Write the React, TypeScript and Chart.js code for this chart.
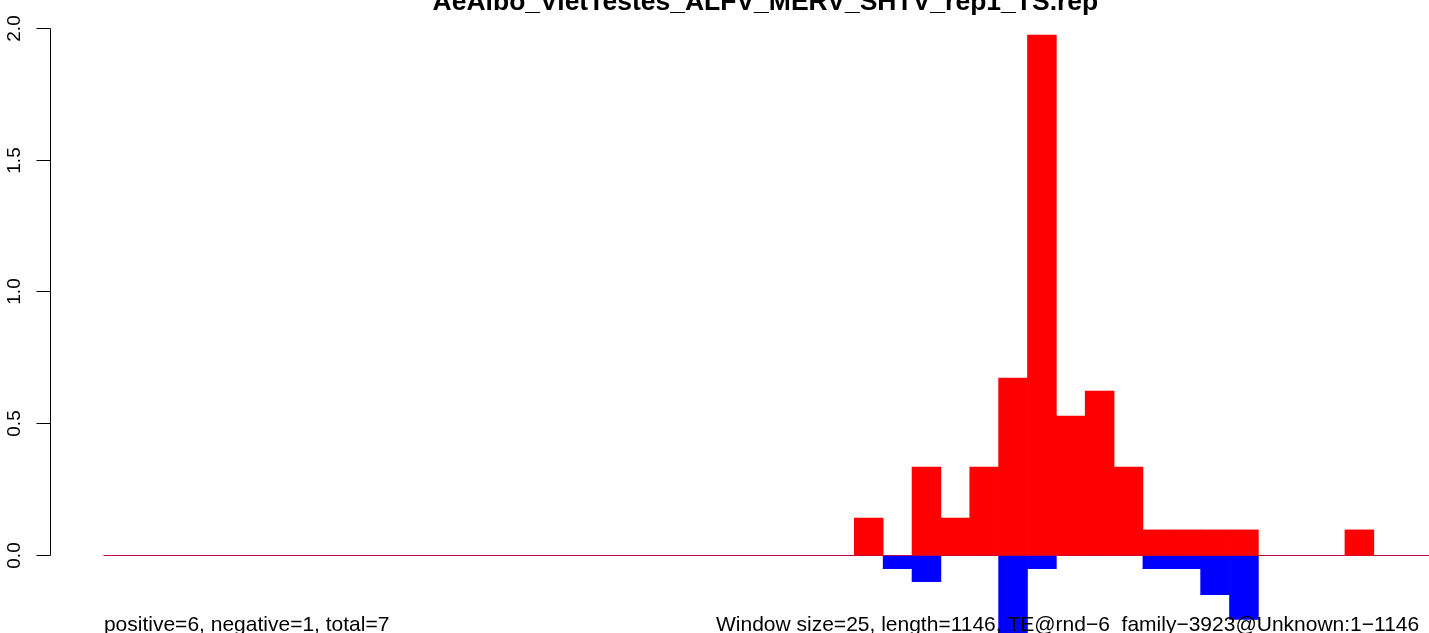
import React, { useEffect, useRef } from "react";
import { Chart, registerables } from "chart.js";

Chart.register(...registerables);

const TITLE = "AeAlbo_VietTestes_ALFV_MERV_SHTV_rep1_TS.rep";
const LEFT_NOTE = "positive=6, negative=1, total=7";
const RIGHT_NOTE = "Window size=25, length=1146, TE@rnd\u22126_family\u22123923@Unknown:1\u22121146";

const WINDOW = 25;
const LENGTH = 1146;
// bin index (window start = index * WINDOW)
const BIN_INDEX = Array.from({ length: 46 }, (_, i) => i);

// positive (red) values per bin
const POSITIVE = [
  0, 0, 0, 0, 0, 0, 0, 0, 0, 0,
  0, 0, 0, 0, 0, 0, 0, 0, 0, 0,
  0, 0, 0, 0, 0, 0, 0.142, 0, 0.335, 0.142,
  0.335, 0.672, 1.971, 0.528, 0.623, 0.335, 0.097, 0.097, 0.097, 0.097,
  0, 0, 0, 0.097, 0, 0,
];

// negative (blue) values per bin
const NEGATIVE = [
  0, 0, 0, 0, 0, 0, 0, 0, 0, 0,
  0, 0, 0, 0, 0, 0, 0, 0, 0, 0,
  0, 0, 0, 0, 0, 0, 0, -0.05, -0.099, 0,
  0, -0.45, -0.05, 0, 0, 0, -0.05, -0.05, -0.148, -0.242,
  0, 0, 0, 0, 0, 0,
];

const Y_TICKS = [0, 0.5, 1, 1.5, 2];
const Y_TICK_LABELS = ["0.0", "0.5", "1.0", "1.5", "2.0"];

const X_MIN = -45.84;
const X_MAX = 1147.8;
const Y_MIN = -0.2936;
const Y_MAX = 2.1042;

const FONT = '"Liberation Sans", Arial, Helvetica, sans-serif';

const rPlotPlugin = {
  id: "rPlot",
  beforeDatasetsDraw(chart: any) {
    const { ctx, scales, chartArea } = chart;
    const xs = scales.x;
    const ys = scales.y;
    const y0 = Math.round(ys.getPixelForValue(0)) + 0.5;
    ctx.save();
    ctx.strokeStyle = "#8a8a8a";
    ctx.lineWidth = 1;
    ctx.beginPath();
    ctx.moveTo(xs.getPixelForValue(0), y0);
    ctx.lineTo(chartArea.right, y0);
    ctx.stroke();
    ctx.restore();
  },
  afterDatasetsDraw(chart: any) {
    const { ctx, scales, chartArea } = chart;
    const xs = scales.x;
    const ys = scales.y;
    ctx.save();
    // y axis line (only between first and last tick, R-style)
    const axisX = chartArea.left - 0.5;
    ctx.strokeStyle = "#000";
    ctx.lineWidth = 1;
    ctx.beginPath();
    ctx.moveTo(axisX, Math.round(ys.getPixelForValue(Y_TICKS[0])) + 0.5);
    ctx.lineTo(axisX, Math.round(ys.getPixelForValue(Y_TICKS[Y_TICKS.length - 1])) + 0.5);
    ctx.stroke();
    // ticks and rotated labels
    ctx.fillStyle = "#000";
    ctx.font = `19px ${FONT}`;
    ctx.textAlign = "center";
    ctx.textBaseline = "alphabetic";
    Y_TICKS.forEach((v, i) => {
      const py = Math.round(ys.getPixelForValue(v)) + 0.5;
      ctx.beginPath();
      ctx.moveTo(axisX - 14, py);
      ctx.lineTo(axisX, py);
      ctx.stroke();
      ctx.save();
      ctx.translate(20, py);
      ctx.rotate(-Math.PI / 2);
      ctx.fillText(Y_TICK_LABELS[i], 0, 0);
      ctx.restore();
    });
    // title centred over the plot region
    ctx.font = `bold 26.5px ${FONT}`;
    ctx.textAlign = "center";
    const mid = (-0.04 * LENGTH + LENGTH * 1.04) / 2;
    ctx.fillText(TITLE, xs.getPixelForValue(mid), 10);
    // bottom notes
    ctx.font = `21px ${FONT}`;
    ctx.textAlign = "left";
    ctx.fillText(LEFT_NOTE, xs.getPixelForValue(0), 631);
    ctx.fillText(RIGHT_NOTE, 716, 631);
    ctx.restore();
  },
};

export default function App() {
  const ref = useRef<HTMLCanvasElement | null>(null);
  useEffect(() => {
    document.body.style.margin = "0";
    const canvas = ref.current;
    if (!canvas) return;
    const centers = BIN_INDEX.map((i) => i * WINDOW + WINDOW / 2);
    const chart = new Chart(canvas, {
      type: "bar",
      data: {
        datasets: [
          {
            label: "positive",
            data: centers.map((x, i) => ({ x, y: POSITIVE[i] })),
            backgroundColor: "#ff0000",
            borderWidth: 0,
            grouped: false,
            barPercentage: 1,
            categoryPercentage: 1,
          },
          {
            label: "negative",
            data: centers.map((x, i) => ({ x, y: NEGATIVE[i] })),
            backgroundColor: "#0000ff",
            borderWidth: 0,
            grouped: false,
            barPercentage: 1,
            categoryPercentage: 1,
          },
        ],
      },
      options: {
        animation: false,
        responsive: false,
        devicePixelRatio: 1,
        layout: { padding: 0 },
        plugins: {
          legend: { display: false },
          title: { display: false },
          tooltip: { enabled: false },
        },
        scales: {
          x: {
            type: "linear",
            offset: false,
            min: X_MIN,
            max: X_MAX,
            display: false,
          },
          y: {
            type: "linear",
            min: Y_MIN,
            max: Y_MAX,
            display: true,
            grid: { display: false },
            border: { display: false },
            ticks: { display: false },
            afterFit: (s: any) => {
              s.width = 51;
            },
          },
        },
      },
      plugins: [rPlotPlugin],
    } as any);
    return () => chart.destroy();
  }, []);
  return (
    <div style={{ position: "absolute", left: 0, top: 0, width: 1429, height: 633, background: "#fff" }}>
      <canvas ref={ref} width={1429} height={633} style={{ width: 1429, height: 633 }} />
    </div>
  );
}
